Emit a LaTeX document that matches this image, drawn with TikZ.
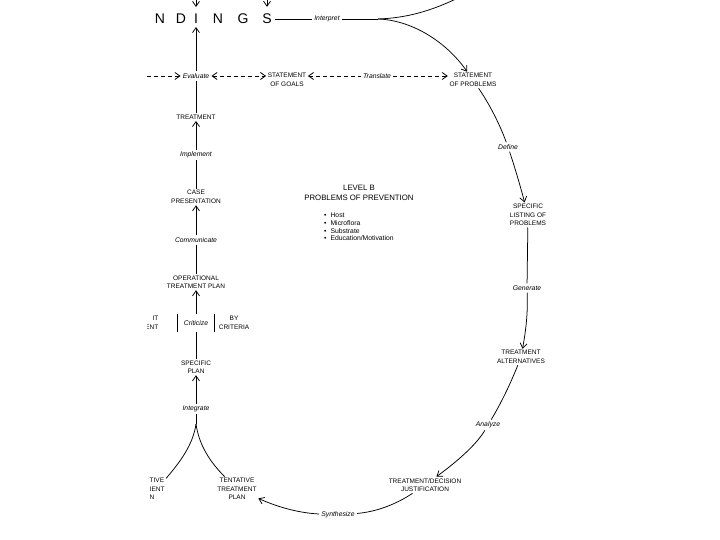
\documentclass[tikz,border=0pt]{standalone}
\usepackage{fontspec}
\setmainfont{Liberation Sans}
\usetikzlibrary{arrows.meta}
\tikzset{
  >={Straight Barb[length=5pt,width=7pt]},
  caps/.style={font=\fontsize{6.5}{8.5}\selectfont, align=center, inner sep=1.5pt},
  verb/.style={font=\fontsize{6.8}{8}\selectfont\itshape, inner sep=2pt},
  big/.style={font=\fontsize{14}{14}\selectfont, inner sep=3pt},
  link/.style={line width=0.75pt},
  flow/.style={line width=0.75pt, ->},
  dflow/.style={line width=0.8pt, dash pattern=on 4pt off 3pt},
}

\begin{document}
\begin{tikzpicture}[x=1pt,y=-1pt]
		%%%%% FRAME %%%%%
		\useasboundingbox (0,0) rectangle (720,540);
		\fill[white] (0,0) rectangle (720,540);
		\begin{scope}
		\clip (147,0) rectangle (720,540);
		
		%%%%% FINDINGS %%%%%
		\foreach \x/\l/\n in {160/N/fN, 181/D/fD, 196/I/fI, 218/N/fNN, 243/G/fG, 267/S/fS}
			\node[big] (\n) at (\x,19) {\l};
		\coordinate (inI) at (196,-10);
		\coordinate (inS) at (267,-10);
		\draw[flow, shorten >=4pt] (inI) -- (fI);
		\draw[flow, shorten >=4pt] (inS) -- (fS);
		
		\node[verb] (interpret) at (327,19) {Interpret};
		\coordinate (split) at (378,19);
		\coordinate (outtop) at (462,-4);
		\draw[link] (fS) -- (interpret);
		\draw[link] (interpret) -- (split);
		\draw[link] (split) .. controls (405,18) and (430,12) .. (outtop);
		
		%%%%% GOALS ROW %%%%%
		\node[verb] (evaluate) at (196,76) {Evaluate};
		\node[caps] (goals) at (287,80) {STATEMENT\\OF GOALS};
		\node[verb] (translate) at (377,76) {Translate};
		\node[caps] (problems) at (473,80) {STATEMENT\\OF PROBLEMS};
		\coordinate (fromleft) at (140,76);
		\draw[dflow,->] (fromleft) -- (evaluate);
		\draw[dflow,<->] (evaluate) -- (goals.west |- evaluate);
		\draw[dflow,<-] (goals.east |- evaluate) -- (translate);
		\draw[dflow,->] (translate) -- (problems.west |- translate);
		\draw[flow] (split) .. controls (410,20) and (445,40) .. (problems);
		
		%%%%% LEFT COLUMN %%%%%
		\draw[flow] (evaluate) -- (fI);
		\node[caps] (treatment) at (196,117) {TREATMENT};
		\draw[link] (evaluate) -- (treatment);
		\node[verb] (implement) at (196,155) {Implement};
		\draw[flow] (implement) -- (treatment);
		\node[caps] (casepres) at (196,197) {CASE\\PRESENTATION};
		\draw[link] (implement) -- (casepres);
		\node[verb] (communicate) at (196,240) {Communicate};
		\draw[flow] (communicate) -- (casepres);
		\node[caps] (opplan) at (196,282) {OPERATIONAL\\TREATMENT PLAN};
		\draw[link] (communicate) -- (opplan);
		
		\node[verb, minimum height=17pt, inner xsep=6.5pt] (criticize) at (196,323) {Criticize};
		\draw[link] (criticize.north west) -- (criticize.south west);
		\draw[link] (criticize.north east) -- (criticize.south east);
		\node[caps, align=right, anchor=east] (against) at (160,323) {IT\\ENT};
		\node[caps] (bycrit) at (234,323) {BY\\CRITERIA};
		\draw[flow] (criticize) -- (opplan);
		
		\node[caps] (specplan) at (196,367) {SPECIFIC\\PLAN};
		\draw[line width=1pt] (specplan) -- (criticize);
		\node[verb] (integrate) at (196,409) {Integrate};
		\draw[flow] (integrate) -- (specplan);
		\coordinate (fork) at (196,424);
		\draw[link] (integrate) -- (fork);
		
		\node[caps, align=left, anchor=west] (tentleft) at (148,489) {TIVE\\IENT\\N};
		\node[caps] (tentright) at (237,489) {TENTATIVE\\TREATMENT\\PLAN};
		\draw[link] (fork) .. controls (193,445) and (180,462) .. (tentleft);
		\draw[link] (fork) .. controls (199,445) and (210,462) .. (tentright);
		
		%%%%% RIGHT ARC %%%%%
		\node[verb] (define) at (508,147) {Define};
		\draw[link] (problems) .. controls (490,105) and (500,125) .. (define);
		\node[caps] (speclist) at (528,215) {SPECIFIC\\LISTING OF\\PROBLEMS};
		\draw[flow] (define) .. controls (515,168) and (520,185) .. (speclist);
		\node[verb] (generate) at (527,288) {Generate};
		\draw[link] (speclist) -- (generate);
		\node[caps] (alternatives) at (521,357) {TREATMENT\\ALTERNATIVES};
		\draw[flow] (generate) .. controls (528,312) and (526,330) .. (alternatives);
		\node[verb] (analyze) at (488,425) {Analyze};
		\draw[link] (alternatives) .. controls (510,385) and (500,405) .. (analyze);
		\node[caps] (decision) at (425,485) {TREATMENT/DECISION\\JUSTIFICATION};
		\draw[flow] (analyze) .. controls (478,442) and (462,458) .. (decision);
		\node[verb] (synthesize) at (338,515) {Synthesize};
		\draw[link] (decision) .. controls (395,505) and (375,512) .. (synthesize);
		\draw[flow] (synthesize) .. controls (300,513) and (280,508) .. (tentright);
		
		%%%%% LEVEL B %%%%%
		\node[font=\fontsize{7.8}{9.5}\selectfont, align=center] (level) at (359,193) {LEVEL B\\PROBLEMS OF PREVENTION};
		\node[font=\fontsize{6.8}{7.6}\selectfont, align=left, anchor=north west, inner sep=0pt] (factors) at (324,213)
			{\textbullet\hspace{4pt}Host\\ \textbullet\hspace{4pt}Microflora\\ \textbullet\hspace{4pt}Substrate\\ \textbullet\hspace{4pt}Education/Motivation};
		\end{scope}
\end{tikzpicture}
\end{document}
